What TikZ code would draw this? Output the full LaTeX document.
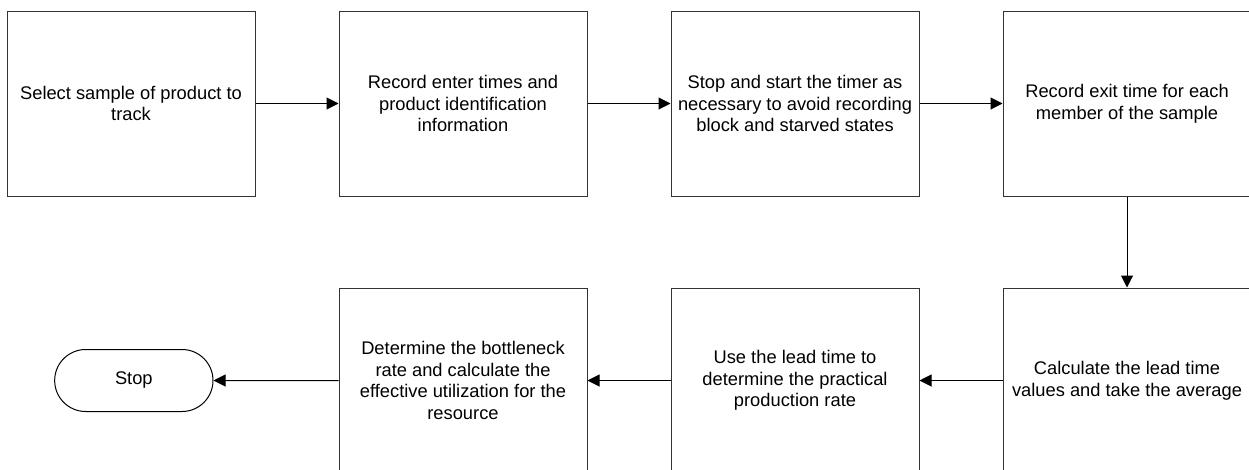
\documentclass[tikz,border=0pt]{standalone}
\usepackage{fontspec}
\setmainfont{Liberation Sans}
\usetikzlibrary{arrows.meta,positioning,shapes.misc}
\tikzset{
    %Define standard arrow tip
    >={Triangle[length=12pt,width=12pt]},
    font=\fontsize{18.3}{21.6}\selectfont,
    %Define style for boxes
    kasten/.style={
           rectangle,
           draw=black!80, line width=1pt,
           minimum width=248pt,
           minimum height=185pt,
           align=center},
    % Define arrow style
    pil/.style={
           ->,
           draw=black,
           line width=1pt},
    % Define style for the terminal
    ende/.style={rounded rectangle,draw=black,line width=1pt,minimum width=165pt,minimum height=62pt}
}

\begin{document}
\begin{tikzpicture}[x=1pt,y=1pt,node distance=83pt]
  \useasboundingbox (0,0) rectangle (1249,-469);
  \clip (0,0) rectangle (1249,-469);
  \node[kasten] (b1) at (131,-103.5) {Select sample of product to\\track};
  \node[kasten] (b2) [right=of b1] {Record enter times and\\product identification\\information};
  \node[kasten] (b3) [right=of b2] {Stop and start the timer as\\necessary to avoid recording\\block and starved states};
  \node[kasten] (b4) [right=of b3] {Record exit time for each\\member of the sample};
  \node[kasten] (b5) [below=91pt of b4] {Calculate the lead time\\values and take the average};
  \node[kasten] (b6) [left=of b5] {Use the lead time to\\determine the practical\\production rate};
  \node[kasten] (b7) [left=of b6] {Determine the bottleneck\\rate and calculate the\\effective utilization for the\\resource};
  \node[ende] (stop) [left=125pt of b7] {Stop};
  \path[pil]
    (b1) edge (b2)
    (b2) edge (b3)
    (b3) edge (b4)
    (b4) edge (b5)
    (b5) edge (b6)
    (b6) edge (b7)
    (b7) edge (stop);
\end{tikzpicture}
\end{document}
